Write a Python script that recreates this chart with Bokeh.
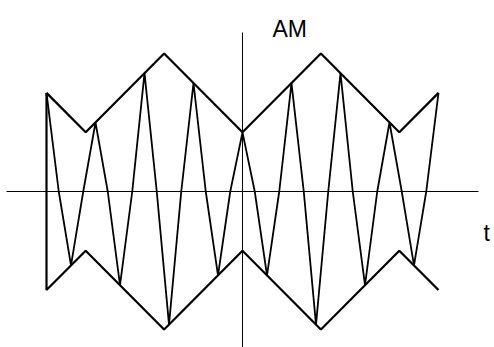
from bokeh.plotting import figure
from bokeh.embed import file_html
from bokeh.resources import INLINE
from bokeh.core.properties import value

# Envelope vertices (time, amplitude)
env_t = [-4.0, -3.2, -1.6, 0.0, 1.6, 3.2, 4.0]
env_a = [1.0, 0.6, 1.4, 0.6, 1.4, 0.6, 1.0]

# Carrier samples: extremes and zero crossings (time, amplitude)
car_t = [-4.0, -3.75, -3.5, -3.25, -3.0, -2.75, -2.5, -2.25, -2.0, -1.75, -1.5, -1.25,
         -1.0, -0.75, -0.5, -0.25, 0.0, 0.25, 0.5, 0.75, 1.0, 1.25, 1.5, 1.75,
         2.0, 2.25, 2.5, 2.75, 3.0, 3.25, 3.5, 3.75, 4.0]
car_a = [1.0, 0.0, -0.75, 0.0, 0.7, 0.0, -0.95, 0.0, 1.2, 0.0, -1.35, 0.0,
         1.1, 0.0, -0.85, 0.0, 0.6, 0.0, -0.85, 0.0, 1.1, 0.0, -1.35, 0.0,
         1.2, 0.0, -0.95, 0.0, 0.7, 0.0, -0.75, 0.0, 1.0]

axis_x = [-4.816, 4.816]
axis_y = [1.6126, -1.7]
title_text = "AM"
t_label = "t"

p = figure(width=494, height=347, output_backend="svg", toolbar_location=None,
           x_range=(-4.9388, 5.1429), y_range=(-1.5822, 1.9371),
           min_border=0, min_border_left=0, min_border_right=0,
           min_border_top=0, min_border_bottom=0)
p.axis.visible = False
p.grid.visible = False
p.outline_line_color = None
p.background_fill_color = "white"
p.border_fill_color = "white"

# axes
p.line(axis_x, [0, 0], line_color="black", line_width=1)
p.line([0, 0], axis_y, line_color="black", line_width=1)

# carrier
p.line(car_t, car_a, line_color="black", line_width=1.8)

# upper envelope
p.line(env_t, env_a, line_color="black", line_width=2.2)
# lower envelope (starting with the closing stroke at the left edge)
low_t = [env_t[0]] + env_t
low_a = [env_a[0]] + [-a for a in env_a]
p.line(low_t, low_a, line_color="black", line_width=2.2)

p.text(x=[0.612], y=[1.643], text=[title_text], text_font=value("Liberation Sans"),
       text_font_size="23px", text_color="black", text_align="left",
       text_baseline="alphabetic")
p.text(x=[4.92], y=[-0.416], text=[t_label], text_font=value("Liberation Sans"),
       text_font_size="23px", text_color="black", text_align="left",
       text_baseline="alphabetic")

open("out.html", "w").write(file_html(p, INLINE))
